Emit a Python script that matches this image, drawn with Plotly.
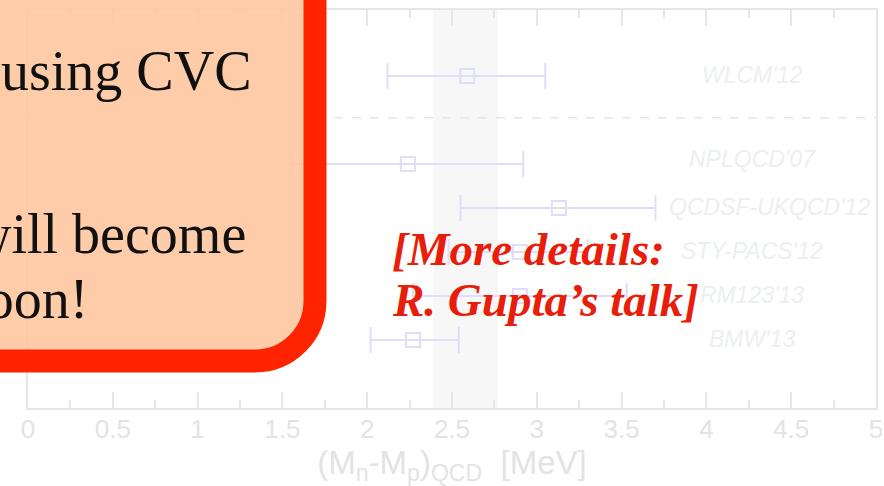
import plotly.graph_objects as go

# Lattice results for the QCD part of the neutron-proton mass splitting
collaborations = ["WLCM'12", "NPLQCD'07", "QCDSF-UKQCD'12", "STY-PACS'12", "RM123'13", "BMW'13"]
row_pos = [7, 5, 4, 3, 2, 1]
central = [2.59, 2.24, 3.13, 2.90, 2.90, 2.27]
err_plus = [0.46, 0.68, 0.57, 0.40, 0.63, 0.27]
err_minus = [0.47, 0.69, 0.58, 0.42, 0.63, 0.25]

# averaged band and separator between phenomenology and lattice rows
band = [2.39, 2.77]
separator_row = 6.05

x_ticks = [0, 0.5, 1, 1.5, 2, 2.5, 3, 3.5, 4, 4.5, 5]

W, H = 884, 486
L, R, T, B = 28, 8, 10, 78
PW, PH = W - L - R, H - T - B


def px(x):
    return (x - L) / PW


def py(y):
    return (H - B - y) / PH


faint_axis = "#e6e6e6"
faint_text = "#e3e3e3"
bar_col = "rgb(222,222,250)"
label_col = "rgb(236,240,236)"
sans = "Liberation Sans, Arial, sans-serif"
serif = "Liberation Serif, Times New Roman, serif"

fig = go.Figure()

fig.add_trace(go.Scatter(
    x=central, y=row_pos, mode="markers",
    marker=dict(symbol="square-open", size=14, color=bar_col, line=dict(width=2, color=bar_col)),
    error_x=dict(type="data", symmetric=False, array=err_plus, arrayminus=err_minus,
                 color=bar_col, thickness=2, width=13),
    hoverinfo="skip", showlegend=False,
))

shapes = [
    dict(type="rect", xref="x", yref="paper", x0=band[0], x1=band[1], y0=0, y1=1,
         fillcolor="#f7f7f7", line=dict(width=0), layer="below"),
    dict(type="line", xref="paper", yref="y", x0=0, x1=1, y0=separator_row, y1=separator_row,
         line=dict(color=faint_axis, width=1.5, dash="dash"), layer="below"),
]

# rounded callout box running off the top-left corner
xr, yb, r = 315, 361, 60
k = 0.552 * r
pts = [
    ("M", [(-60, -60)]),
    ("L", [(xr, -60)]),
    ("L", [(xr, yb - r)]),
    ("C", [(xr, yb - r + k), (xr - r + k, yb), (xr - r, yb)]),
    ("L", [(-60, yb)]),
]
path = ""
for cmd, ps in pts:
    path += cmd + " ".join(f"{px(a):.5f},{py(b):.5f}" for a, b in ps) + " "
path += "Z"
shapes.append(dict(type="path", xref="paper", yref="paper", path=path,
                   fillcolor="rgba(254,198,160,0.9)", line=dict(color="#ff2400", width=23),
                   layer="above"))

annotations = []
label_x = {"QCDSF-UKQCD'12": 4.37}
for name, yv in zip(collaborations, row_pos):
    annotations.append(dict(
        x=label_x.get(name, 4.27), y=yv + (0.12 if name == "NPLQCD'07" else 0.03),
        xref="x", yref="y", text=f"<i>{name}</i>", showarrow=False,
        xanchor="center", yanchor="middle",
        font=dict(family=sans, size=23, color=label_col),
    ))

for txt, right, baseline in [("using CVC", 253, 90), ("will become", 247, 253), ("soon!", 89, 318)]:
    annotations.append(dict(
        x=px(right), y=py(baseline - 0.34 * 56), xref="paper", yref="paper",
        text=txt, showarrow=False, xanchor="right", yanchor="middle",
        font=dict(family=serif, size=56, color="#111111"), borderpad=0,
    ))

for txt, left, baseline in [("<b><i>[More details:</i></b>", 391, 265),
                            ("<b><i>R. Gupta’s talk]</i></b>", 391, 316)]:
    annotations.append(dict(
        x=px(left), y=py(baseline - 0.34 * 47), xref="paper", yref="paper",
        text=txt, showarrow=False, xanchor="left", yanchor="middle",
        font=dict(family=serif, size=47, color="rgb(232,30,10)"), borderpad=0,
    ))

fig.update_layout(
    width=W, height=H, autosize=False,
    margin=dict(l=L, r=R, t=T, b=B, pad=0),
    paper_bgcolor="white", plot_bgcolor="white",
    shapes=shapes, annotations=annotations,
    xaxis=dict(
        range=[0, 5], tickvals=x_ticks, ticktext=[f"{v:g}" for v in x_ticks],
        automargin=False,
        ticks="inside", ticklen=16, tickwidth=1.5, tickcolor=faint_axis,
        minor=dict(dtick=0.25, tick0=0, ticks="inside", ticklen=8, tickwidth=1.5, tickcolor=faint_axis),
        showline=True, linecolor=faint_axis, linewidth=2, mirror="ticks",
        showgrid=False, zeroline=False,
        ticklabelstandoff=-3,
        tickfont=dict(family=sans, size=26, color=faint_text),
        title=dict(text="(M<sub>n</sub>-M<sub>p</sub>)<sub>QCD</sub>  [MeV]", standoff=3,
                   font=dict(family=sans, size=33, color=faint_text)),
    ),
    yaxis=dict(
        range=[-0.545, 8.5], showticklabels=False, ticks="", showgrid=False, zeroline=False,
        automargin=False,
        showline=True, linecolor=faint_axis, linewidth=2, mirror=True,
    ),
)

fig.write_html("out.html")
